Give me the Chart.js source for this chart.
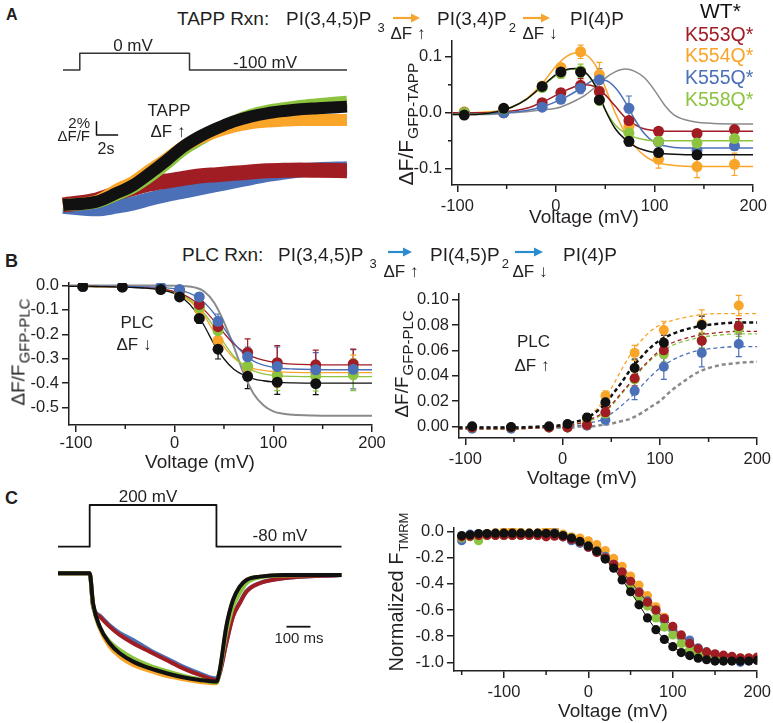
<!DOCTYPE html>
<html><head><meta charset="utf-8">
<script src="https://cdn.jsdelivr.net/npm/chart.js@4.4.1/dist/chart.umd.min.js"></script>
<style>
html,body{margin:0;padding:0;background:#fff;}
body{width:773px;height:723px;position:relative;overflow:hidden;font-family:"Liberation Sans",Arial,Helvetica,sans-serif;color:#231f20;}
canvas{position:absolute;}
.t{position:absolute;white-space:nowrap;line-height:1;}
.r{position:absolute;white-space:nowrap;line-height:1;transform:translate(-50%,-50%) rotate(-90deg);}
svg{position:absolute;overflow:visible;}
</style></head><body>
<script>
// ================= DATA =================
const groups = ['WT*','K553Q*','K554Q*','K555Q*','K558Q*'];

// Panel A (left): TAPP traces, time (s) vs ΔF/F (%)
const traceAT = [0,3.1,4.9,6.5,8.0,9.6,11.1,12.6,14.2,15.7,17.3,18.8,20.4,21.9,23.5,26.2];
const traceAWT   = [0,0.5,1.75,3.0,4.75,6.75,8.75,10.25,11.5,12.5,13.25,13.75,14.1,14.35,14.5,14.75];
const traceA553  = [0,0.75,1.75,2.5,3.15,3.6,4.0,4.35,4.55,4.75,4.95,5.15,5.2,5.25,5.2,5.15];
const traceA554  = [0,0.6,2.25,3.5,5.25,7.0,8.75,10.0,11.0,11.75,12.25,12.5,12.65,12.75,12.75,12.75];
const traceA555  = [-0.25,-0.65,-0.25,0.25,0.9,1.5,2.0,2.5,3.0,3.5,4.0,4.5,4.85,5.15,5.35,5.5];
const traceA558  = [0,0.4,1.5,2.65,4.25,6.25,8.25,9.75,11.25,12.5,13.5,14.1,14.5,14.85,15.1,15.5];
const protoAT = [0,1.55,1.55,11.67,11.67,26.2];
const protoAV = [-100,-100,0,0,-100,-100];
const scaleAT = [3.09,3.09,5.09];
const scaleAY = [12.5,10.5,10.5];

// Panels A (right) & B: voltages of the measured points
const voltsAB = [-93,-53,-14,5,25,44,74,104,143,181];

// A right: ΔF/F GFP-TAPP
const tappWT   = [-0.004,0.008,0.047,0.073,0.073,0.023,-0.051,-0.071,-0.075,null];
const tappWTe  = [0.003,0.003,0.006,0.007,0.008,0.006,0.008,0.006,0.006,0];
const tapp553  = [0.000,0.000,0.018,0.036,0.049,0.038,-0.014,-0.033,-0.037,-0.030];
const tapp553e = [0.002,0.003,0.004,0.006,0.012,0.008,0.006,0.005,0.005,0.005];
const tapp554  = [0.002,0.001,0.048,0.081,0.109,0.068,-0.024,-0.083,-0.096,-0.092];
const tapp554e = [0.002,0.002,0.006,0.007,0.012,0.022,0.010,0.016,0.020,0.020];
const tapp555  = [0.000,0.000,0.010,0.024,0.044,0.059,0.008,-0.052,-0.067,-0.059];
const tapp555e = [0.002,0.002,0.004,0.006,0.010,0.020,0.022,0.008,0.008,0.008];
const tapp558  = [0.000,0.007,0.045,0.070,0.075,0.022,-0.036,-0.051,-0.054,-0.046];
const tapp558e = [0.002,0.003,0.006,0.008,0.012,0.008,0.008,0.006,0.008,0.006];
// fitted curves
const fitVA = [-105,-90,-75,-60,-45,-30,-15,0,10,20,30,40,50,60,70,80,90,100,110,120,140,160,200];
const tappFitWT  = [-0.003,-0.003,-0.002,0.002,0.010,0.024,0.046,0.068,0.077,0.079,0.072,0.048,0.005,-0.028,-0.047,-0.060,-0.067,-0.071,-0.073,-0.074,-0.075,-0.075,-0.075];
const tappFit553 = [0,0,0,0.001,0.003,0.008,0.018,0.031,0.040,0.047,0.050,0.046,0.032,0.012,-0.008,-0.021,-0.029,-0.032,-0.033,-0.033,-0.033,-0.033,-0.033];
const tappFit554 = [0,0,0.001,0.003,0.010,0.025,0.050,0.083,0.100,0.107,0.104,0.085,0.045,0.000,-0.035,-0.060,-0.077,-0.087,-0.092,-0.094,-0.096,-0.096,-0.096];
const tappFit555 = [-0.002,-0.002,-0.002,-0.001,0.001,0.004,0.010,0.020,0.028,0.038,0.050,0.059,0.058,0.045,0.020,-0.012,-0.038,-0.053,-0.059,-0.062,-0.063,-0.063,-0.063];
const tappFit558 = [-0.003,-0.003,-0.002,0.002,0.010,0.024,0.045,0.067,0.076,0.078,0.071,0.047,0.006,-0.022,-0.036,-0.044,-0.048,-0.050,-0.050,-0.050,-0.050,-0.050,-0.050];
const tappFitRef = [-0.002,-0.003,-0.003,-0.002,0.000,0.002,0.005,0.008,0.014,0.022,0.032,0.046,0.062,0.073,0.078,0.074,0.062,0.040,0.014,-0.004,-0.016,-0.019,-0.020];

// B left: ΔF/F GFP-PLC (decrease)
const plcWT   = [-0.004,-0.007,-0.017,-0.047,-0.135,-0.261,-0.372,-0.396,-0.402,null];
const plcWTe  = [0.003,0.004,0.004,0.006,0.020,0.040,0.050,0.050,0.045,0];
const plc553  = [-0.005,-0.005,-0.012,-0.020,-0.078,-0.169,-0.274,-0.316,-0.325,-0.321];
const plc553e = [0.003,0.003,0.005,0.006,0.020,0.030,0.055,0.070,0.060,0.060];
const plc554  = [-0.005,-0.006,-0.012,-0.030,-0.098,-0.225,-0.336,-0.366,-0.355,-0.330];
const plc554e = [0.003,0.003,0.005,0.006,0.020,0.030,0.040,0.050,0.040,0.045];
const plc555  = [-0.005,-0.006,-0.005,-0.017,-0.047,-0.147,-0.292,-0.332,-0.345,-0.343];
const plc555e = [0.003,0.003,0.004,0.006,0.015,0.030,0.040,0.080,0.070,0.080];
const plc558  = [-0.005,-0.006,-0.012,-0.025,-0.090,-0.185,-0.330,-0.370,-0.372,-0.365];
const plc558e = [0.003,0.003,0.004,0.006,0.020,0.030,0.045,0.060,0.060,0.065];
const fitVB = [-107,-90,-75,-60,-45,-30,-15,0,10,20,30,40,50,60,70,80,90,100,110,120,140,160,200];
const plcFitWT  = [-0.004,-0.004,-0.005,-0.006,-0.008,-0.011,-0.018,-0.034,-0.058,-0.100,-0.165,-0.240,-0.300,-0.343,-0.367,-0.382,-0.390,-0.395,-0.398,-0.399,-0.400,-0.400,-0.400];
const plcFit553 = [-0.004,-0.004,-0.005,-0.006,-0.007,-0.009,-0.013,-0.025,-0.040,-0.064,-0.100,-0.145,-0.195,-0.240,-0.272,-0.293,-0.306,-0.314,-0.319,-0.322,-0.324,-0.325,-0.325];
const plcFit554 = [-0.004,-0.004,-0.005,-0.006,-0.007,-0.010,-0.016,-0.030,-0.050,-0.080,-0.125,-0.190,-0.250,-0.297,-0.325,-0.340,-0.348,-0.352,-0.355,-0.356,-0.357,-0.357,-0.357];
const plcFit555 = [-0.004,-0.004,-0.004,-0.004,-0.005,-0.006,-0.008,-0.014,-0.024,-0.041,-0.070,-0.115,-0.175,-0.235,-0.280,-0.310,-0.326,-0.335,-0.340,-0.342,-0.344,-0.345,-0.345];
const plcFit558 = [-0.004,-0.004,-0.005,-0.006,-0.007,-0.009,-0.014,-0.027,-0.045,-0.073,-0.115,-0.170,-0.235,-0.290,-0.327,-0.350,-0.362,-0.368,-0.371,-0.372,-0.373,-0.373,-0.373];
const plcFitRef = [0,0,0,0,0,0,0,-0.001,-0.003,-0.008,-0.025,-0.070,-0.150,-0.250,-0.360,-0.443,-0.490,-0.515,-0.525,-0.529,-0.532,-0.533,-0.533];

// B right: ΔF/F GFP-PLC (increase)
const plcUpWT   = [0.000,-0.0005,0.000,0.0018,0.007,0.019,0.046,0.066,0.080,null];
const plcUpWTe  = [0.002,0.002,0.002,0.002,0.003,0.005,0.007,0.006,0.007,0];
const plcUp553  = [-0.001,-0.001,-0.001,-0.001,0.001,0.011,0.038,0.060,0.0675,0.079];
const plcUp553e = [0.001,0.001,0.001,0.001,0.002,0.004,0.006,0.006,0.006,0.006];
const plcUp554  = [-0.001,-0.001,-0.001,-0.001,0.005,0.024,0.058,0.076,0.081,0.0955];
const plcUp554e = [0.001,0.001,0.001,0.001,0.002,0.004,0.006,0.007,0.011,0.008];
const plcUp555  = [-0.002,-0.002,-0.001,-0.001,0.0005,0.005,0.028,0.047,0.058,0.065];
const plcUp555e = [0.001,0.001,0.001,0.001,0.002,0.004,0.007,0.010,0.011,0.010];
const plcUp558  = [-0.001,-0.001,-0.001,-0.001,0.001,0.010,0.037,0.057,0.068,0.077];
const plcUp558e = [0.001,0.001,0.001,0.001,0.002,0.004,0.006,0.006,0.006,0.006];
const fitVC = [-107,-80,-50,-20,0,10,20,30,40,50,60,70,80,90,100,110,120,140,160,180,200];
const plcUpFitWT  = [-0.001,-0.001,-0.001,0.000,0.001,0.003,0.005,0.009,0.015,0.024,0.034,0.045,0.054,0.062,0.068,0.072,0.075,0.079,0.081,0.082,0.082];
const plcUpFit553 = [-0.002,-0.002,-0.002,-0.001,0.000,0.001,0.003,0.006,0.010,0.017,0.026,0.035,0.045,0.053,0.060,0.065,0.068,0.072,0.074,0.075,0.075];
const plcUpFit554 = [-0.002,-0.002,-0.002,-0.001,0.000,0.002,0.005,0.010,0.018,0.030,0.044,0.057,0.067,0.075,0.080,0.083,0.085,0.088,0.089,0.089,0.089];
const plcUpFit555 = [-0.002,-0.002,-0.002,-0.001,-0.001,0.000,0.001,0.003,0.005,0.010,0.016,0.023,0.031,0.039,0.046,0.051,0.055,0.060,0.062,0.063,0.063];
const plcUpFit558 = [-0.002,-0.002,-0.002,-0.001,0.000,0.001,0.003,0.005,0.009,0.016,0.025,0.034,0.044,0.052,0.058,0.063,0.066,0.070,0.072,0.073,0.073];
const plcUpFitRef = [-0.001,-0.001,-0.001,-0.001,-0.001,-0.001,0.000,0.000,0.001,0.002,0.004,0.006,0.010,0.015,0.020,0.027,0.033,0.043,0.048,0.050,0.051];

// C left: TMRM traces, time (ms) vs normalized F
const traceCT = [0,132,146,174,215,257,313,382,451,521,590,660,674,701,729,757,785,840,938,1181];
const traceCWT  = [0,0,-0.277,-0.492,-0.646,-0.738,-0.815,-0.876,-0.922,-0.959,-0.984,-0.999,-0.892,-0.492,-0.246,-0.123,-0.062,-0.031,-0.015,-0.015];
const traceC553 = [0,0,-0.307,-0.400,-0.492,-0.569,-0.646,-0.723,-0.800,-0.877,-0.938,-0.984,-0.923,-0.646,-0.400,-0.277,-0.170,-0.092,-0.046,-0.015];
const traceC554 = [0,0,-0.290,-0.510,-0.677,-0.769,-0.846,-0.901,-0.947,-0.978,-1.003,-1.015,-0.900,-0.500,-0.250,-0.125,-0.062,-0.031,-0.015,-0.015];
const traceC555 = [0,0,-0.300,-0.390,-0.480,-0.550,-0.615,-0.707,-0.784,-0.861,-0.923,-0.969,-0.910,-0.640,-0.390,-0.270,-0.165,-0.090,-0.046,-0.015];
const traceC558 = [0,0,-0.285,-0.495,-0.630,-0.707,-0.784,-0.852,-0.901,-0.944,-0.978,-1.009,-0.900,-0.553,-0.308,-0.185,-0.092,-0.040,-0.020,-0.015];
const protoCT = [0,132,132,660,660,1181];
const protoCV = [-80,-80,200,200,-80,-80];
const scaleCT = [951.7,1051.7];
const scaleCY = [-0.493,-0.493];

// C right: normalized F TMRM vs voltage
const voltsC = [-150,-140,-130,-120,-110,-100,-90,-80,-70,-60,-50,-40,-30,-20,-10,0,10,20,30,40,50,60,70,80,90,100,110,120,130,140,150,160,170,180,190,200];
const tmrmWT  = [-0.030,-0.025,-0.015,-0.015,-0.012,-0.012,-0.012,-0.012,-0.012,-0.012,-0.013,-0.015,-0.030,-0.050,-0.075,-0.110,-0.150,-0.210,-0.280,-0.370,-0.460,-0.560,-0.660,-0.750,-0.825,-0.880,-0.925,-0.948,-0.968,-0.980,-0.990,-0.990,-0.990,-0.990,-0.990,-0.985];
const tmrm553 = [-0.040,-0.035,-0.030,-0.030,-0.030,-0.030,-0.030,-0.030,-0.030,-0.030,-0.040,-0.035,-0.040,-0.060,-0.080,-0.120,-0.160,-0.200,-0.250,-0.310,-0.380,-0.465,-0.540,-0.600,-0.665,-0.725,-0.790,-0.855,-0.895,-0.920,-0.935,-0.945,-0.955,-0.965,-0.965,-0.960];
const tmrm554 = [-0.040,-0.030,-0.020,-0.015,-0.010,0.000,0.010,-0.005,-0.010,-0.010,0.012,0.015,-0.020,-0.040,-0.050,-0.070,-0.100,-0.145,-0.205,-0.265,-0.340,-0.410,-0.490,-0.575,-0.655,-0.735,-0.800,-0.860,-0.900,-0.930,-0.950,-0.960,-0.965,-0.970,-0.970,-0.970];
const tmrm555 = [-0.070,-0.020,-0.020,-0.020,-0.020,-0.030,-0.020,-0.020,-0.020,-0.020,-0.020,-0.010,-0.040,-0.070,-0.090,-0.120,-0.150,-0.190,-0.250,-0.310,-0.385,-0.460,-0.530,-0.600,-0.680,-0.750,-0.800,-0.830,-0.890,-0.920,-0.940,-0.950,-0.960,-1.000,-0.985,-0.980];
const tmrm558 = [-0.050,-0.040,-0.070,-0.030,-0.030,-0.030,-0.030,-0.030,-0.030,-0.030,-0.030,-0.030,-0.030,-0.050,-0.080,-0.110,-0.150,-0.200,-0.260,-0.330,-0.420,-0.500,-0.570,-0.660,-0.730,-0.790,-0.855,-0.905,-0.940,-0.960,-0.970,-0.975,-0.980,-0.980,-0.980,-0.980];

// tick values
const ticksV = [-100,0,100,200];
const minorV = [-50,50,150];
const ticksTAPP = [-0.1,0,0.1];
const minorTAPP = [-0.05,0.05];
const ticksPLC = [0,-0.1,-0.2,-0.3,-0.4,-0.5];
const ticksPLCup = [0,0.02,0.04,0.06,0.08,0.10];
const ticksVC = [-100,0,100,200];
const minorVC = [-150,-50,50,150];
const ticksTMRM = [0,-0.2,-0.4,-0.6,-0.8,-1.0];

// ================= STYLE =================
const FONT = '"Liberation Sans", Arial, sans-serif';
const TXT = '#231f20';
const COL = {wt:'#111111', k553:'#a11d24', k554:'#f8a52a', k555:'#4b70b7', k558:'#8cc43f', ref:'#8a8a8a'};

// ================= HELPERS =================
function pts(xs, ys, es){
  const out=[]; xs.forEach((x,i)=>{ if(ys[i]!==null && ys[i]!==undefined) out.push({x:x, y:ys[i], e: es? es[i]:0}); }); return out;
}
function ptsDS(xs,ys,es,color,r){
  return {data:pts(xs,ys,es), showLine:false, pointRadius:r, pointHoverRadius:r, pointBackgroundColor:color, pointBorderWidth:0, borderColor:color, backgroundColor:color};
}
function lineDS(xs,ys,color,w,dash,extra){
  return Object.assign({data:pts(xs,ys), showLine:true, pointRadius:0, pointHoverRadius:0, borderColor:color, backgroundColor:color, borderWidth:w, borderDash:dash||[], cubicInterpolationMode:'monotone', fill:false, borderJoinStyle:'round'}, extra||{});
}
const errPlugin = {
  id:'errbars',
  beforeDatasetsDraw(chart){
    const ctx=chart.ctx, x=chart.scales.x, y=chart.scales.y;
    chart.data.datasets.forEach(ds=>{
      if(ds.showLine) return;
      ctx.save(); ctx.strokeStyle=ds.borderColor; ctx.lineWidth=1.2;
      ds.data.forEach(p=>{
        if(!p.e) return;
        const px=x.getPixelForValue(p.x), y1=y.getPixelForValue(p.y+p.e), y2=y.getPixelForValue(p.y-p.e);
        ctx.beginPath(); ctx.moveTo(px,y1); ctx.lineTo(px,y2);
        ctx.moveTo(px-3,y1); ctx.lineTo(px+3,y1); ctx.moveTo(px-3,y2); ctx.lineTo(px+3,y2); ctx.stroke();
      });
      ctx.restore();
    });
  }
};
const minorPlugin = {
  id:'minor',
  afterDraw(chart, args, opts){
    if(!opts || (!opts.x && !opts.y)) return;
    const ctx=chart.ctx, a=chart.chartArea, x=chart.scales.x, y=chart.scales.y;
    ctx.save(); ctx.strokeStyle=TXT; ctx.lineWidth=1.5;
    (opts.x||[]).forEach(v=>{const px=x.getPixelForValue(v); ctx.beginPath(); ctx.moveTo(px,a.bottom); ctx.lineTo(px,a.bottom+opts.len); ctx.stroke();});
    (opts.y||[]).forEach(v=>{const py=y.getPixelForValue(v); ctx.beginPath(); ctx.moveTo(a.left,py); ctx.lineTo(a.left-opts.len,py); ctx.stroke();});
    ctx.restore();
  }
};
function axis(min,max,tickVals,fmt,isX,size,pad){
  return {type:'linear', min:min, max:max,
    afterBuildTicks:a=>{a.ticks=tickVals.map(v=>({value:v}));},
    afterFit:s=>{ if(isX) s.height=size; else s.width=size; },
    ticks:{callback:v=>fmt(v), font:{size:16.5,family:FONT}, color:TXT, padding:(pad!==undefined?pad:(isX?5:3)), maxRotation:0, autoSkip:false},
    grid:{drawOnChartArea:false, tickLength:7, color:TXT, lineWidth:1.5},
    border:{color:TXT, width:1.5}};
}
function mkChart(area, yW, xH, datasets, scales, minorOpts){
  const padT=12, padR=18;
  const c=document.createElement('canvas');
  const w=Math.round((area.r-area.l)+yW+padR), h=Math.round((area.b-area.t)+padT+xH);
  c.width=w; c.height=h;
  c.style.left=(area.l-yW)+'px'; c.style.top=(area.t-padT)+'px';
  c.style.width=w+'px'; c.style.height=h+'px';
  document.body.appendChild(c);
  return new Chart(c,{type:'scatter', data:{datasets:datasets},
    options:{responsive:false, animation:false, events:[],
      layout:{padding:{top:padT,right:padR,left:0,bottom:0}},
      plugins:{legend:{display:false}, tooltip:{enabled:false}, minor:minorOpts||{}},
      scales:scales},
    plugins:[errPlugin, minorPlugin]});
}
function mkTrace(left, top, w, h, pad, datasets, scales){
  const c=document.createElement('canvas');
  c.width=w; c.height=h; c.style.left=left+'px'; c.style.top=top+'px'; c.style.width=w+'px'; c.style.height=h+'px';
  document.body.appendChild(c);
  return new Chart(c,{type:'scatter', data:{datasets:datasets},
    options:{responsive:false, animation:false, events:[],
      layout:{padding:pad},
      plugins:{legend:{display:false}, tooltip:{enabled:false}},
      scales:scales}});
}
const f1 = v=>v.toFixed(1), f2 = v=>v.toFixed(2), f0 = v=>String(Math.round(v));

// ================= PANEL A LEFT (traces) =================
const trW = {borderCapStyle:'butt', clip:false};
mkTrace(53,30,304,200,10,[
  lineDS(protoAT,protoAV,'#333',1.5,[],{yAxisID:'yv', cubicInterpolationMode:'default', tension:0}),
  lineDS(scaleAT,scaleAY,'#111',1.5,[],{cubicInterpolationMode:'default', tension:0}),
  lineDS(traceAT,traceAWT,COL.wt,12,[],trW),
  lineDS(traceAT,traceA554,COL.k554,12,[],trW),
  lineDS(traceAT,traceA558,COL.k558,12,[],trW),
  lineDS(traceAT,traceA553,COL.k553,15,[],trW),
  lineDS(traceAT,traceA555,COL.k555,14,[],trW)
],{
  x:{type:'linear',display:false,min:0,max:26.2},
  y:{type:'linear',display:false,min:-2.25,max:24.74},
  yv:{type:'linear',display:false,min:-998,max:79.6}
});

// ================= PANEL A RIGHT =================
mkChart({l:452,t:40,r:754,b:185},60,40,[
  ptsDS(voltsAB,tappWT,tappWTe,COL.wt,5.5),
  ptsDS(voltsAB,tapp558,tapp558e,COL.k558,5.5),
  ptsDS(voltsAB,tapp555,tapp555e,COL.k555,5.5),
  ptsDS(voltsAB,tapp553,tapp553e,COL.k553,5.5),
  ptsDS(voltsAB,tapp554,tapp554e,COL.k554,5.5),
  lineDS(fitVA,tappFitWT,COL.wt,1.5),
  lineDS(fitVA,tappFit558,COL.k558,1.5),
  lineDS(fitVA,tappFit555,COL.k555,1.5),
  lineDS(fitVA,tappFit553,COL.k553,1.5),
  lineDS(fitVA,tappFit554,COL.k554,1.5),
  lineDS(fitVA,tappFitRef,COL.ref,1.5)
],{
  x:axis(-105.4,200,ticksV,f0,true,40),
  y:axis(-0.129,0.1284,ticksTAPP,f1,false,60)
},{x:minorV,y:minorTAPP,len:4});

// ================= PANEL B LEFT =================
mkChart({l:69,t:282,r:372,b:425},50,40,[
  ptsDS(voltsAB,plcWT,plcWTe,COL.wt,5.5),
  ptsDS(voltsAB,plc555,plc555e,COL.k555,5.5),
  ptsDS(voltsAB,plc553,plc553e,COL.k553,5.5),
  ptsDS(voltsAB,plc558,plc558e,COL.k558,5.5),
  ptsDS(voltsAB,plc554,plc554e,COL.k554,5.5),
  lineDS(fitVB,plcFitWT,COL.wt,1.3),
  lineDS(fitVB,plcFit555,COL.k555,1.3),
  lineDS(fitVB,plcFit553,COL.k553,1.3),
  lineDS(fitVB,plcFit558,COL.k558,1.3),
  lineDS(fitVB,plcFit554,COL.k554,1.3),
  lineDS(fitVB,plcFitRef,COL.ref,2)
],{
  x:axis(-107,200,ticksV,f0,true,40,2),
  y:axis(-0.571,0.0102,ticksPLC,f1,false,50)
},{x:minorV,len:4});

// ================= PANEL B RIGHT =================
mkChart({l:459,t:293,r:757.7,b:438},50,40,[
  ptsDS(voltsAB,plcUpWT,plcUpWTe,COL.wt,5),
  ptsDS(voltsAB,plcUp553,plcUp553e,COL.k553,5),
  ptsDS(voltsAB,plcUp558,plcUp558e,COL.k558,5),
  ptsDS(voltsAB,plcUp555,plcUp555e,COL.k555,5),
  ptsDS(voltsAB,plcUp554,plcUp554e,COL.k554,5),
  lineDS(fitVC,plcUpFitWT,COL.wt,2.5,[4,3]),
  lineDS(fitVC,plcUpFit553,COL.k553,1.3,[4,3]),
  lineDS(fitVC,plcUpFit558,COL.k558,1.3,[4,3]),
  lineDS(fitVC,plcUpFit555,COL.k555,1.3,[4,3]),
  lineDS(fitVC,plcUpFit554,COL.k554,1.3,[4,3]),
  lineDS(fitVC,plcUpFitRef,COL.ref,2.5,[4,3])
],{
  x:axis(-106.5,200,ticksV,f0,true,40),
  y:axis(-0.00926,0.1046,ticksPLCup,f2,false,50)
},{x:minorV,len:4});

// ================= PANEL C LEFT (traces) =================
const trC = {borderCapStyle:'butt', clip:false};
mkTrace(48,480,304,230,10,[
  lineDS(protoCT,protoCV,'#111',1.8,[],{yAxisID:'yv', cubicInterpolationMode:'default', tension:0}),
  lineDS(scaleCT,scaleCY,'#111',1.8,[],{cubicInterpolationMode:'default', tension:0}),
  lineDS(traceCT,traceCWT,COL.wt,4,[],trC),
  lineDS(traceCT,traceC558,COL.k558,4,[],trC),
  lineDS(traceCT,traceC554,COL.k554,4,[],trC),
  lineDS(traceCT,traceC553,COL.k553,4,[],trC),
  lineDS(traceCT,traceC555,COL.k555,4,[],trC)
],{
  x:{type:'linear',display:false,min:0,max:1183},
  y:{type:'linear',display:false,min:-1.169,max:0.768},
  yv:{type:'linear',display:false,min:-1109.6,max:300.8}
});

// ================= PANEL C RIGHT =================
function tmrmDS(ys,color){
  return {data:pts(voltsC,ys), showLine:true, borderColor:color, backgroundColor:color, borderWidth:1, pointRadius:4.6, pointBackgroundColor:color, pointBorderWidth:0, tension:0};
}
mkChart({l:454,t:527,r:757.7,b:671},54,40,[
  tmrmDS(tmrmWT,COL.wt),
  tmrmDS(tmrm553,COL.k553),
  tmrmDS(tmrm558,COL.k558),
  tmrmDS(tmrm555,COL.k555),
  tmrmDS(tmrm554,COL.k554)
],{
  x:axis(-159.1,200,ticksVC,f0,true,40),
  y:axis(-1.0661,0.0281,ticksTMRM,f1,false,54)
},{x:minorVC,len:4});

// ================= TEXT =================
function T(html,x,y,size,align,extra){
  const d=document.createElement('div'); d.className='t'; d.innerHTML=html;
  d.style.fontSize=size+'px'; d.style.top=(y-0.5*size)+'px'; d.style.left=x+'px';
  const tx = align==='c'?'-50%':(align==='r'?'-100%':'0');
  d.style.transform='translateX('+tx+')';
  if(extra) Object.assign(d.style,extra);
  document.body.appendChild(d); return d;
}
function R(html,x,y,size){
  const d=document.createElement('div'); d.className='r'; d.innerHTML=html;
  d.style.fontSize=size+'px'; d.style.left=x+'px'; d.style.top=y+'px';
  document.body.appendChild(d); return d;
}
function arrow(x1,x2,y,color){
  const ns='http://www.w3.org/2000/svg';
  const s=document.createElementNS(ns,'svg'); const w=x2-x1;
  s.setAttribute('width',w); s.setAttribute('height',10);
  s.style.left=x1+'px'; s.style.top=(y-5)+'px';
  s.innerHTML='<line x1="0" y1="5" x2="'+(w-6)+'" y2="5" stroke="'+color+'" stroke-width="2.2"/><polygon points="'+(w-9)+',0.5 '+w+',5 '+(w-9)+',9.5" fill="'+color+'"/>';
  document.body.appendChild(s);
}
const sub = (t,top,ml,fs)=>'<span style="font-size:'+(fs||13)+'px;position:relative;top:'+top+'px;margin-left:'+ml+'px">'+t+'</span>';

// Panel letters
T('A',6,15,16,'l',{fontWeight:'bold'});
T('B',5,261,18,'l',{fontWeight:'bold'});
T('C',5,498,18,'l',{fontWeight:'bold'});

// A reaction scheme
T('TAPP Rxn:',177,18,19);
T('PI(3,4,5)P'+sub('3',7,6),286,18,19);
arrow(393,420,18,'#f5a631');
T('ΔF ↑',408,33,17,'c');
T('PI(3,4)P'+sub('2',7,2),437,18,19);
arrow(523,550,18,'#f5a631');
T('ΔF ↓',540,33,17,'c');
T('PI(4)P',570,18,19);

// Legend
T(groups[0],700,10,21,'l',{color:'#111'});
T(groups[1],685,34.5,19.5,'l',{color:COL.k553});
T(groups[2],685,56,19.5,'l',{color:COL.k554});
T(groups[3],685,77.5,19.5,'l',{color:COL.k555});
T(groups[4],685,99.5,19.5,'l',{color:COL.k558});

// A left annotations
T('0 mV',133,45,17,'c');
T('-100 mV',265,62,17,'c');
T('2%',90,122.5,15,'r');
T('ΔF/F',90,135,15,'r');
T('2s',106,149,16,'c');
T('TAPP',169,110,17,'c');
T('ΔF ↑',168,131.5,17,'c');

// A right axis titles
R('ΔF/F'+sub('GFP-TAPP',5,1,15.5),405,124,21);
T('Voltage (mV)',584,216,19,'c');

// B reaction scheme
T('PLC Rxn:',182,254,19);
T('PI(3,4,5)P'+sub('3',7,6),278,254,19);
arrow(388,412,252,'#2a8ccb');
T('ΔF ↑',401,271.5,17,'c');
T('PI(4,5)P'+sub('2',7,2),430,254,19);
arrow(515,543,252,'#2a8ccb');
T('ΔF ↓',530,271.5,17,'c');
T('PI(4)P',563,254,19);

// B left
T('PLC',137,322.5,17,'c');
T('ΔF ↓',134,344.5,17,'c');
R('ΔF/F'+sub('GFP-PLC',5,1,15),18,352,19);
T('Voltage (mV)',200,461,19,'c');

// B right
T('PLC',533.5,341.5,17,'c');
T('ΔF ↑',532,365.5,17,'c');
R('ΔF/F'+sub('GFP-PLC',5,1,15),401,364,19);
T('Voltage (mV)',582,477,19,'c');

// C left
T('200 mV',148,496,17,'c');
T('-80 mV',280,535,17,'c');
T('100 ms',299,637.5,15,'c');

// C right
R('Normalized F'+sub('TMRM',5,1,13),396,592,20);
T('Voltage (mV)',613,710,19,'c');
</script>
</body></html>
